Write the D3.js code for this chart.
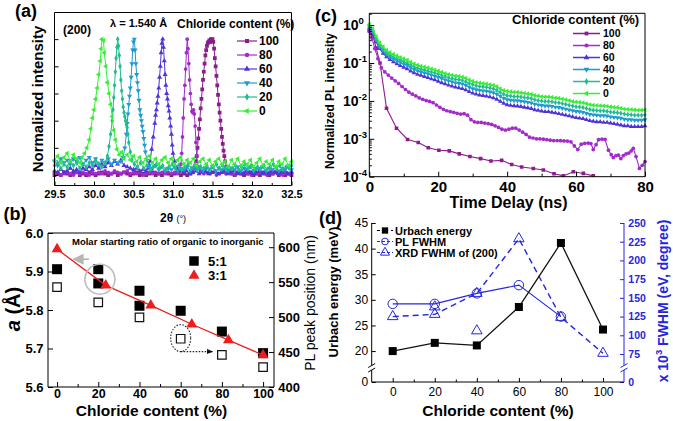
<!DOCTYPE html>
<html><head><meta charset="utf-8">
<script src="https://cdnjs.cloudflare.com/ajax/libs/d3/7.8.5/d3.min.js"></script>
<style>
html,body{margin:0;padding:0;background:#fff;}
svg{display:block;}
text{font-family:"Liberation Sans",Arial,Helvetica,sans-serif;}
</style></head><body>
<svg id="fig" width="673" height="421"></svg>
<script>
// ================= DATA =================
const chlorideLevels=["100","80","60","40","20","0"];
const levelColors=["#8B1C8C","#A22BCB","#4F35D8","#1F9BD0","#20BD90","#36EE36"];
const levelShapes=["square","circle","triangle","triangleDown","diamond","triangleLeft"];

// (a) XRD (200) peaks: [2theta, normalized intensity %]
const xrdTicks=[29.5,30.0,30.5,31.0,31.5,32.0,32.5];
const xrdYTicks=[0,20,40,60,80,100];
const xrd0=[[29.50,11],[29.54,14],[29.58,9],[29.62,13],[29.66,16],[29.70,10],[29.74,15],[29.78,12],[29.82,9],[29.85,13],[29.88,16],[29.91,20],[29.94,26],[29.96,34],[29.98,42],[30.00,48],[30.02,56],[30.04,64],[30.06,74],[30.08,84],[30.09,93],[30.10,100],[30.12,99],[30.13,90],[30.15,80],[30.17,68],[30.19,60],[30.21,52],[30.23,43],[30.25,33],[30.27,26],[30.29,19],[30.32,15],[30.35,17],[30.38,12],[30.42,15],[30.46,11],[30.50,14],[30.54,10],[30.58,13],[30.62,9],[30.66,12],[30.70,14],[30.74,9],[30.78,12],[30.82,8],[30.86,11],[30.90,13],[30.94,9],[30.98,12],[31.02,8],[31.06,11],[31.10,13],[31.14,8],[31.18,11],[31.22,9],[31.26,12],[31.30,7],[31.34,10],[31.38,12],[31.42,8],[31.46,11],[31.50,7],[31.54,10],[31.58,12],[31.62,8],[31.66,10],[31.70,6],[31.74,11],[31.78,8],[31.82,12],[31.86,7],[31.90,10],[31.94,8],[31.98,11],[32.02,6],[32.06,9],[32.10,12],[32.14,7],[32.18,10],[32.22,8],[32.26,11],[32.30,6],[32.34,10],[32.38,8],[32.42,12],[32.46,7],[32.50,10]];
const xrd20=[[29.50,7],[29.54,9],[29.58,5],[29.62,8],[29.66,6],[29.70,10],[29.74,7],[29.78,9],[29.82,5],[29.86,8],[29.90,6],[29.94,9],[29.98,7],[30.02,10],[30.06,8],[30.10,6],[30.14,9],[30.17,14],[30.19,21],[30.21,30],[30.23,40],[30.24,48],[30.25,57],[30.26,66],[30.27,76],[30.28,86],[30.29,94],[30.30,100],[30.31,95],[30.32,88],[30.33,80],[30.34,70],[30.35,62],[30.36,56],[30.37,50],[30.38,46],[30.39,43],[30.40,40],[30.41,37],[30.42,35],[30.43,30],[30.44,24],[30.46,17],[30.48,11],[30.51,8],[30.55,6],[30.59,9],[30.63,5],[30.67,7],[30.71,4],[30.75,6],[30.79,8],[30.83,5],[30.87,7],[30.91,4],[30.95,6],[30.99,8],[31.03,5],[31.07,7],[31.11,4],[31.15,6],[31.19,8],[31.23,5],[31.27,7],[31.31,4],[31.35,6],[31.39,5],[31.43,7],[31.47,4],[31.51,6],[31.55,8],[31.59,5],[31.63,7],[31.67,4],[31.71,6],[31.75,5],[31.79,7],[31.83,4],[31.87,6],[31.91,8],[31.95,5],[31.99,7],[32.03,4],[32.07,6],[32.11,5],[32.15,7],[32.19,4],[32.23,6],[32.27,8],[32.31,5],[32.35,7],[32.39,4],[32.43,6],[32.47,5],[32.50,7]];
const xrd40=[[29.50,10],[29.54,7],[29.58,12],[29.62,9],[29.66,11],[29.70,8],[29.74,12],[29.78,10],[29.82,13],[29.86,8],[29.90,11],[29.94,13],[29.98,9],[30.02,12],[30.06,8],[30.10,11],[30.14,9],[30.18,12],[30.22,8],[30.26,11],[30.30,9],[30.34,10],[30.37,13],[30.39,20],[30.41,30],[30.42,38],[30.43,45],[30.44,52],[30.45,58],[30.46,64],[30.47,72],[30.48,82],[30.49,92],[30.50,98],[30.51,100],[30.52,92],[30.53,82],[30.54,74],[30.55,68],[30.56,62],[30.57,55],[30.58,48],[30.59,44],[30.60,40],[30.61,36],[30.62,32],[30.63,27],[30.64,22],[30.65,17],[30.67,11],[30.70,7],[30.74,5],[30.78,7],[30.82,4],[30.86,6],[30.90,3],[30.94,5],[30.98,4],[31.02,6],[31.06,3],[31.10,5],[31.14,4],[31.18,6],[31.22,3],[31.26,5],[31.30,4],[31.34,6],[31.38,3],[31.42,5],[31.46,4],[31.50,6],[31.54,3],[31.58,5],[31.62,4],[31.66,6],[31.70,3],[31.74,5],[31.78,4],[31.82,6],[31.86,3],[31.90,5],[31.94,4],[31.98,6],[32.02,3],[32.06,5],[32.10,4],[32.14,6],[32.18,3],[32.22,5],[32.26,4],[32.30,6],[32.34,3],[32.38,5],[32.42,4],[32.46,6],[32.50,4]];
const xrd60=[[29.50,3],[29.54,2],[29.58,4],[29.62,2],[29.66,3],[29.70,5],[29.74,3],[29.78,4],[29.82,2],[29.86,5],[29.90,4],[29.94,6],[29.98,4],[30.02,7],[30.06,5],[30.10,8],[30.14,6],[30.18,9],[30.22,7],[30.26,10],[30.30,8],[30.34,11],[30.38,7],[30.42,6],[30.46,5],[30.50,4],[30.54,5],[30.58,3],[30.62,4],[30.66,3],[30.69,5],[30.71,10],[30.73,19],[30.75,28],[30.77,38],[30.78,44],[30.79,48],[30.80,53],[30.81,58],[30.82,64],[30.83,72],[30.84,80],[30.85,90],[30.86,97],[30.87,100],[30.88,94],[30.89,84],[30.90,74],[30.91,66],[30.92,60],[30.93,56],[30.94,51],[30.95,47],[30.96,42],[30.97,36],[30.98,30],[30.99,22],[31.00,16],[31.02,10],[31.05,5],[31.09,3],[31.13,2],[31.17,3],[31.21,1],[31.25,2],[31.29,3],[31.33,1],[31.37,2],[31.41,3],[31.45,1],[31.49,2],[31.53,3],[31.57,1],[31.61,2],[31.65,3],[31.69,1],[31.73,2],[31.77,3],[31.81,1],[31.85,2],[31.89,1],[31.93,3],[31.97,2],[32.01,1],[32.05,2],[32.09,3],[32.13,1],[32.17,2],[32.21,1],[32.25,3],[32.29,2],[32.33,1],[32.37,2],[32.41,3],[32.45,1],[32.50,2]];
const xrd80=[[29.50,1],[29.54,2],[29.58,0],[29.62,1],[29.66,2],[29.70,1],[29.74,0],[29.78,2],[29.82,1],[29.86,2],[29.90,1],[29.94,0],[29.98,2],[30.02,1],[30.06,2],[30.10,1],[30.14,3],[30.18,2],[30.22,1],[30.26,3],[30.30,2],[30.34,1],[30.38,2],[30.42,3],[30.46,1],[30.50,2],[30.54,1],[30.58,2],[30.62,0],[30.66,1],[30.70,2],[30.74,1],[30.78,2],[30.82,1],[30.86,2],[30.90,1],[30.94,2],[30.98,1],[31.02,2],[31.06,1],[31.09,3],[31.10,8],[31.11,16],[31.12,28],[31.13,42],[31.14,56],[31.15,66],[31.16,78],[31.17,90],[31.18,100],[31.19,93],[31.20,82],[31.21,70],[31.22,60],[31.23,52],[31.24,47],[31.25,46],[31.26,48],[31.27,45],[31.28,36],[31.29,24],[31.30,14],[31.32,6],[31.35,3],[31.39,1],[31.43,2],[31.47,1],[31.51,2],[31.55,0],[31.59,1],[31.63,2],[31.67,1],[31.71,2],[31.75,1],[31.79,0],[31.83,2],[31.87,1],[31.91,2],[31.95,1],[31.99,0],[32.03,2],[32.07,1],[32.11,2],[32.15,1],[32.19,0],[32.23,2],[32.27,1],[32.31,2],[32.35,1],[32.39,0],[32.43,2],[32.47,1],[32.50,2]];
const xrd100=[[29.50,0],[29.54,1],[29.58,0],[29.62,2],[29.66,1],[29.70,0],[29.74,1],[29.78,2],[29.82,0],[29.86,1],[29.90,0],[29.94,2],[29.98,1],[30.02,0],[30.06,1],[30.10,2],[30.14,1],[30.18,0],[30.22,1],[30.26,2],[30.30,0],[30.34,1],[30.38,2],[30.42,1],[30.46,0],[30.50,1],[30.54,2],[30.58,0],[30.62,1],[30.66,0],[30.70,1],[30.74,2],[30.78,0],[30.82,1],[30.86,0],[30.90,2],[30.94,1],[30.98,0],[31.02,1],[31.06,2],[31.10,0],[31.14,1],[31.18,0],[31.22,1],[31.25,2],[31.27,5],[31.29,10],[31.30,14],[31.31,20],[31.32,27],[31.33,34],[31.34,41],[31.35,49],[31.36,56],[31.37,63],[31.38,70],[31.39,76],[31.40,82],[31.41,88],[31.42,92],[31.43,95],[31.44,97],[31.45,98],[31.46,99],[31.47,98],[31.48,100],[31.49,99],[31.50,100],[31.51,98],[31.52,93],[31.53,86],[31.54,80],[31.55,73],[31.56,66],[31.57,59],[31.58,52],[31.59,46],[31.60,40],[31.61,34],[31.62,28],[31.63,23],[31.64,18],[31.65,14],[31.66,10],[31.68,6],[31.70,3],[31.74,1],[31.78,0],[31.82,2],[31.86,1],[31.90,0],[31.94,1],[31.98,2],[32.02,0],[32.06,1],[32.10,0],[32.14,2],[32.18,1],[32.22,0],[32.26,1],[32.30,2],[32.34,0],[32.38,1],[32.42,0],[32.46,1],[32.50,0]];

// (b) lattice constant / PL peak position
const bXTicks=[0,20,40,60,80,100];
const bLeftTicks=[5.6,5.7,5.8,5.9,6.0];
const bRightTicks=[400,450,500,550,600];
const latticeChloride51=[0,20,20,40,40,60,80,100];
const lattice51=[5.906,5.906,5.869,5.850,5.811,5.798,5.744,5.688];
const plPeakChloride=[0,20,40,60,80,100];
const plPeak=[543,521,499.5,469,446,428.5];
const chloride31=[0,23.6,45.5,65.4,83.2,100];
const lattice31=[5.958,5.864,5.812,5.763,5.722,5.683];

// (c) TRPL decays
const cXTicks=[0,20,40,60,80];
const cYTicks=[1e-4,1e-3,1e-2,1e-1,1];
const plTimes=[0,1,2,3,4,5,6,7,8,9,10,11,12,13,14,15,16,17,18,19,20,21,22,23,24,25,26,27,28,29,30,31,32,33,34,35,36,37,38,39,40,41,42,43,44,45,46,47,48,49,50,51,52,53,54,55,56,57,58,59,60,61,62,63,64,65,66,67,68,69,70,71,72,73,74,75,76,77,78,79,80];
const pl0=[1.05,0.80,0.50,0.34,0.27,0.22,0.19,0.17,0.155,0.14,0.13,0.12,0.105,0.095,0.088,0.083,0.079,0.075,0.07,0.066,0.062,0.057,0.053,0.05,0.048,0.046,0.045,0.043,0.04,0.036,0.033,0.031,0.03,0.029,0.028,0.027,0.026,0.024,0.021,0.019,0.018,0.0175,0.017,0.017,0.0165,0.016,0.0155,0.015,0.014,0.0135,0.013,0.0128,0.0128,0.0125,0.012,0.0118,0.0113,0.0108,0.0102,0.0097,0.0094,0.0092,0.009,0.0085,0.008,0.0077,0.0076,0.0075,0.0074,0.0072,0.007,0.0068,0.0067,0.0064,0.0061,0.006,0.0059,0.0058,0.0057,0.0057,0.0058];
const pl20=[0.95,0.72,0.44,0.30,0.235,0.19,0.165,0.145,0.13,0.12,0.11,0.10,0.088,0.08,0.074,0.069,0.066,0.062,0.058,0.055,0.051,0.047,0.044,0.041,0.039,0.037,0.036,0.035,0.032,0.029,0.027,0.025,0.024,0.0235,0.023,0.022,0.021,0.019,0.017,0.015,0.0138,0.0135,0.013,0.013,0.0127,0.0123,0.012,0.0115,0.0107,0.0103,0.0099,0.0097,0.0097,0.0095,0.0091,0.0089,0.0085,0.0081,0.0077,0.0073,0.007,0.0069,0.0067,0.0063,0.0059,0.0057,0.0056,0.0055,0.0055,0.0053,0.0051,0.005,0.0049,0.0047,0.0045,0.0044,0.0043,0.0042,0.0042,0.0042,0.0043];
const pl40=[0.90,0.66,0.40,0.27,0.21,0.17,0.145,0.127,0.114,0.103,0.094,0.086,0.075,0.068,0.062,0.058,0.055,0.052,0.048,0.045,0.042,0.039,0.036,0.034,0.032,0.030,0.029,0.028,0.026,0.023,0.021,0.0198,0.019,0.0185,0.018,0.0173,0.0165,0.015,0.0133,0.0117,0.0108,0.0105,0.0102,0.0101,0.0098,0.0095,0.0092,0.0088,0.0082,0.0079,0.0076,0.0074,0.0074,0.0072,0.0069,0.0067,0.0064,0.0061,0.0058,0.0055,0.0053,0.0052,0.005,0.0047,0.0044,0.0043,0.0042,0.0041,0.0041,0.004,0.0038,0.0037,0.0036,0.0035,0.0033,0.0032,0.0032,0.0031,0.0031,0.0031,0.0032];
const pl60=[0.85,0.60,0.36,0.24,0.18,0.145,0.123,0.107,0.095,0.085,0.077,0.07,0.061,0.055,0.05,0.047,0.044,0.041,0.038,0.036,0.033,0.03,0.028,0.026,0.0245,0.023,0.022,0.021,0.0195,0.0175,0.016,0.015,0.0143,0.0138,0.0133,0.0127,0.012,0.011,0.0097,0.0086,0.0079,0.0076,0.0074,0.0073,0.0071,0.0068,0.0066,0.0063,0.0058,0.0056,0.0054,0.0052,0.0052,0.005,0.0048,0.0046,0.0044,0.0042,0.004,0.0038,0.0036,0.0035,0.0034,0.0032,0.003,0.0029,0.0028,0.0028,0.0027,0.0027,0.0026,0.0025,0.0024,0.0023,0.0022,0.0022,0.0021,0.0021,0.0021,0.0021,0.0022];
const pl80=[[0,0.7],[0.8,0.45],[1.6,0.24],[2.5,0.13],[3.5,0.075],[4.5,0.058],[5.5,0.048],[6.5,0.04],[7.5,0.034],[8.5,0.029],[9.5,0.024],[10.5,0.02],[11.5,0.017],[12.5,0.015],[13.5,0.0135],[14.5,0.012],[15.5,0.011],[16.5,0.0102],[17.5,0.0097],[18.5,0.009],[19.5,0.0078],[20.5,0.0068],[21.5,0.006],[22.5,0.0055],[23.5,0.0052],[24.5,0.005],[25.5,0.0047],[26.5,0.0045],[27.5,0.0046],[28.5,0.0042],[29.5,0.0032],[30.5,0.0028],[31.5,0.0027],[32.5,0.0027],[33.5,0.0026],[34.5,0.0025],[35.5,0.0024],[36.5,0.0022],[37.5,0.002],[38.5,0.0018],[39.5,0.0017],[40.5,0.0018],[41.5,0.0019],[42.5,0.0019],[43.5,0.0017],[44.5,0.0015],[45.5,0.0013],[46.5,0.0011],[47.5,0.00105],[48.5,0.001],[49.5,0.001],[50.5,0.00098],[51.5,0.00095],[52.5,0.00092],[53.5,0.0009],[54.5,0.0009],[55.5,0.00089],[56.5,0.00088],[57.5,0.00087],[58.5,0.00083],[59.5,0.00065],[60.5,0.00052],[61.5,0.00072],[62.5,0.00076],[63.5,0.00077],[64.3,0.00075],[65,0.00052],[65.8,0.0007],[66.5,0.00095],[67.5,0.00098],[68.4,0.00096],[69.4,0.0005],[70.2,0.00038],[70.8,0.00032],[71.6,0.00036],[72.3,0.00037],[73,0.0003],[73.7,0.00036],[74.5,0.0004],[75.3,0.00042],[76,0.00048],[76.6,0.00056],[77.4,0.00034],[78.4,0.000165],[79.2,0.0002],[80,0.00025]];
const pl100=[[0,0.7],[1,0.55],[2,0.25],[3.1,0.1],[5,0.0064],[7.9,0.0019],[11.1,0.00096],[14.2,0.0008],[17.1,0.00058],[20.2,0.0005],[23.2,0.00048],[26.1,0.0004],[29.2,0.00034],[32.3,0.0003],[35.3,0.00026],[38.4,0.00027],[41.3,0.00021],[44.2,0.00018],[47.6,0.000165],[50.5,0.00015],[53.6,0.00012],[56.3,0.000105],[59.2,0.000135],[62.1,0.000122],[65,0.000105]];

// (d) Urbach energy and FWHM
const dXTicks=[0,20,40,60,80,100];
const dLeftTicks=[0,20,25,30,35,40,45];
const dRightTicks=[0,75,100,125,150,175,200,225,250];
const dChloride=[0,20,40,60,80,100];
const urbachEnergy=[20.0,21.6,21.1,28.6,41.1,24.2];
const plFwhmChloride=[0,20,40,60,80];
const plFwhm=[142,142,156,167,125];
const xrdFwhm=[125,128,156,229,124,76];
const xrdFwhmExtraChloride=[20,40];
const xrdFwhmExtra=[138,106];

// ================= DRAW =================
const svg=d3.select("#fig");
const defs=svg.append("defs");
const symMap={square:d3.symbolSquare,circle:d3.symbolCircle,triangle:d3.symbolTriangle,triangleDown:d3.symbolTriangle,triangleLeft:d3.symbolTriangle,diamond:d3.symbolDiamond};
const symRot={triangleDown:180,triangleLeft:-90};
function markers(g,data,xs,ys,type,size,fill,stroke,sw){
  g.selectAll(null).data(data).join("path")
    .attr("d",d3.symbol(symMap[type],size)())
    .attr("transform",d=>`translate(${xs(d[0])},${ys(d[1])}) rotate(${symRot[type]||0})`)
    .attr("fill",fill).attr("stroke",stroke||"none").attr("stroke-width",sw||0);
}
function clipRect(id,B){defs.append("clipPath").attr("id",id).append("rect").attr("x",B.l-3).attr("y",B.t).attr("width",B.r-B.l+6).attr("height",B.b-B.t);}
function styleAxis(g,size,weight,color){
  g.select(".domain").remove();
  g.selectAll(".tick line").attr("stroke",color||"#000").attr("stroke-width",1);
  g.selectAll(".tick text").attr("font-size",size).attr("font-weight",weight).attr("fill",color||"#000");
}
function frame(g,B,sides,color){
  const c=color||"#000";
  if(sides.includes("t"))g.append("line").attr("x1",B.l).attr("x2",B.r).attr("y1",B.t).attr("y2",B.t).attr("stroke",c);
  if(sides.includes("b"))g.append("line").attr("x1",B.l).attr("x2",B.r).attr("y1",B.b).attr("y2",B.b).attr("stroke",c);
  if(sides.includes("l"))g.append("line").attr("x1",B.l).attr("x2",B.l).attr("y1",B.t).attr("y2",B.b).attr("stroke",c);
  if(sides.includes("r"))g.append("line").attr("x1",B.r).attr("x2",B.r).attr("y1",B.t).attr("y2",B.b).attr("stroke",c);
}
function label(txt,x,y,size,weight,opts={}){
  const t=svg.append("text").attr("x",x).attr("y",y).attr("font-size",size).attr("font-weight",weight)
    .attr("text-anchor",opts.anchor||"start").attr("fill",opts.fill||"#000").text(txt);
  if(opts.rot)t.attr("transform",`rotate(${opts.rot},${x},${y})`);
  return t;
}
defs.append("marker").attr("id","arrGrey").attr("viewBox","0 0 10 10").attr("refX",9).attr("refY",5)
  .attr("markerWidth",7).attr("markerHeight",7).attr("orient","auto")
  .append("path").attr("d","M0,0 L10,5 L0,10 z").attr("fill","#b5b5b5");
defs.append("marker").attr("id","arrBlack").attr("viewBox","0 0 10 10").attr("refX",9).attr("refY",5)
  .attr("markerWidth",6).attr("markerHeight",6).attr("orient","auto")
  .append("path").attr("d","M0,1 L10,5 L0,9 z").attr("fill","#111");

// ---------- Panel (a) ----------
const A={l:54.5,r:291.5,t:12.5,b:185.5};
const xA=d3.scaleLinear().domain([29.5,32.5]).range([A.l,A.r]);
const yA=d3.scaleLinear().domain([-7.7,119.6]).range([A.b,A.t]);
clipRect("clipA",A);
const gA=svg.append("g");
const plotA=gA.append("g").attr("clip-path","url(#clipA)");
const xrdSeries=[xrd100,xrd80,xrd60,xrd40,xrd20,xrd0];
const lineA=d3.line().x(d=>xA(d[0])).y(d=>yA(d[1]));
xrdSeries.forEach((s,i)=>{
  plotA.append("path").attr("d",lineA(s)).attr("fill","none").attr("stroke",levelColors[i]).attr("stroke-width",1);
  markers(plotA,s,xA,yA,levelShapes[i],i===0?14:11,levelColors[i]);
});
const axA=gA.append("g").attr("transform",`translate(0,${A.b})`)
  .call(d3.axisBottom(xA).tickValues(xrdTicks).tickFormat(d3.format(".1f")).tickSize(-4).tickPadding(4.5));
styleAxis(axA,11,"bold");
const axAm=gA.append("g").attr("transform",`translate(0,${A.b})`)
  .call(d3.axisBottom(xA).tickValues([29.75,30.25,30.75,31.25,31.75,32.25]).tickFormat("").tickSize(-2.5));
styleAxis(axAm,11,"bold");
const ayA=gA.append("g").attr("transform",`translate(${A.l},0)`)
  .call(d3.axisLeft(yA).tickValues(xrdYTicks).tickFormat("").tickSize(-4));
styleAxis(ayA,11,"bold");
frame(gA,A,"tblr");
// legend (a)
label("Chloride content (%)",177,28,12,"bold");
chlorideLevels.forEach((lv,i)=>{
  const y=41+14*i;
  gA.append("line").attr("x1",237).attr("x2",257).attr("y1",y).attr("y2",y).attr("stroke",levelColors[i]).attr("stroke-width",1.2);
  markers(gA,[[247,y]],d=>d,d=>d,levelShapes[i],16,levelColors[i]);
  label(lv,259,y+4.2,12,"bold");
});
label("\u03bb = 1.540 \u00c5",110,27,11,"bold");
label("(200)",63,34,12,"bold");
label("(a)",15,17,18,"bold");
label("Normalized intensity",42.5,99,15,"bold",{anchor:"middle",rot:-90});
const tt=label("2\u03b8 ",160,222,12,"bold");
tt.append("tspan").attr("font-size",9).attr("font-weight","normal").text("(\u00b0)");

// ---------- Panel (b) ----------
const B={l:48,r:274,t:233,b:387};
const xB=d3.scaleLinear().domain([-4.4,105.3]).range([B.l,B.r]);
const yBL=d3.scaleLinear().domain([5.6,6.0]).range([B.b,B.t]);
const yBR=d3.scaleLinear().domain([400,620.3]).range([B.b,B.t]);
const gB=svg.append("g");
markers(gB,plPeakChloride.map((c,i)=>[c,plPeak[i]]),xB,yBR,"square",72,"#fff","#111",1.2);
markers(gB,latticeChloride51.map((c,i)=>[c,lattice51[i]]),xB,yBL,"square",100,"#000");
const pts31=chloride31.map((c,i)=>[c,lattice31[i]]);
gB.append("path").attr("d",d3.line().x(d=>xB(d[0])).y(d=>yBL(d[1]))(pts31)).attr("fill","none").attr("stroke","#e8201c").attr("stroke-width",1.3);
markers(gB,pts31,xB,yBL,"triangle",52,"#ee1c1c");
gB.append("circle").attr("cx",xB(20.8)).attr("cy",yBL(5.880)).attr("r",15).attr("fill","none").attr("stroke","#bdbdbd").attr("stroke-width",1.6);
gB.append("line").attr("x1",xB(15.5)).attr("y1",yBL(5.932)).attr("x2",xB(8)).attr("y2",yBL(5.932)).attr("stroke","#b5b5b5").attr("stroke-width",1.6).attr("marker-end","url(#arrGrey)");
gB.append("ellipse").attr("cx",xB(60)).attr("cy",yBL(5.727)).attr("rx",10).attr("ry",13.5).attr("fill","none").attr("stroke","#222").attr("stroke-width",1.1).attr("stroke-dasharray","1.5,1.5");
gB.append("line").attr("x1",xB(60)).attr("y1",yBL(5.692)).attr("x2",xB(75.5)).attr("y2",yBL(5.692)).attr("stroke","#222").attr("stroke-width",1.1).attr("stroke-dasharray","1.5,1.5").attr("marker-end","url(#arrBlack)");
const axB=gB.append("g").attr("transform",`translate(0,${B.b})`).call(d3.axisBottom(xB).tickValues(bXTicks).tickSize(-5).tickPadding(2.5));
styleAxis(axB,12.5,"bold");
const axBm=gB.append("g").attr("transform",`translate(0,${B.b})`).call(d3.axisBottom(xB).tickValues([10,30,50,70,90]).tickFormat("").tickSize(-3));
styleAxis(axBm,12.5,"bold");
const ayBL=gB.append("g").attr("transform",`translate(${B.l},0)`).call(d3.axisLeft(yBL).tickValues(bLeftTicks).tickFormat(d3.format(".1f")).tickSize(-5).tickPadding(4.5));
styleAxis(ayBL,13,"bold");
const ayBR=gB.append("g").attr("transform",`translate(${B.r},0)`).call(d3.axisRight(yBR).tickValues(bRightTicks).tickSize(-5).tickPadding(4.3));
styleAxis(ayBR,13,"bold");
frame(gB,B,"tblr");
label("Molar starting ratio of organic to inorganic",72,245.4,9.5,"bold");
markers(gB,[[194,261]],d=>d,d=>d,"square",90,"#000");
label("5:1",208,265.5,13,"bold");
markers(gB,[[194,275.5]],d=>d,d=>d,"triangle",52,"#ee1c1c");
label("3:1",208,280,13,"bold");
label("(b)",3.5,219.5,18,"bold");
const aT=svg.append("text").attr("x",19.5).attr("y",309).attr("font-size",20).attr("font-weight","bold").attr("text-anchor","middle").attr("transform","rotate(-90,19.5,309)");
aT.append("tspan").attr("font-style","italic").text("a");
aT.append("tspan").text(" (\u00c5)");
label("PL peak position (nm)",315,303,14,"normal",{anchor:"middle",rot:-90});
label("Chloride content (%)",151.5,415.5,15.5,"bold",{anchor:"middle"});

// ---------- Panel (c) ----------
const C={l:369.3,r:645,t:13.3,b:176.7};
const xC=d3.scaleLinear().domain([0,80]).range([C.l,C.r]);
const yC=d3.scaleLog().domain([1e-4,2.05]).range([C.b,C.t]);
clipRect("clipC",C);
const gC=svg.append("g");
const plotC=gC.append("g").attr("clip-path","url(#clipC)");
const lineC=d3.line().x(d=>xC(d[0])).y(d=>yC(d[1]));
const plSeries=[pl100,pl80,
  plTimes.map((t,i)=>[t,pl60[i]]),plTimes.map((t,i)=>[t,pl40[i]]),
  plTimes.map((t,i)=>[t,pl20[i]]),plTimes.map((t,i)=>[t,pl0[i]])];
const plSizes=[13,11,10,10,9,10];
plSeries.forEach((s,i)=>{
  plotC.append("path").attr("d",lineC(s)).attr("fill","none").attr("stroke",levelColors[i]).attr("stroke-width",1.1);
  markers(plotC,s,xC,yC,levelShapes[i],plSizes[i],levelColors[i]);
});
const axC=gC.append("g").attr("transform",`translate(0,${C.b})`).call(d3.axisBottom(xC).tickValues(cXTicks).tickSize(-5).tickPadding(5));
styleAxis(axC,15,"bold");
const axCm=gC.append("g").attr("transform",`translate(0,${C.b})`).call(d3.axisBottom(xC).tickValues([10,30,50,70]).tickFormat("").tickSize(-3));
styleAxis(axCm,15,"bold");
const ayC=gC.append("g").attr("transform",`translate(${C.l},0)`).call(d3.axisLeft(yC).tickValues(cYTicks).tickFormat("").tickSize(-5));
styleAxis(ayC,12,"bold");
const minorC=[];
for(let e=-4;e<=0;e++){for(let k=2;k<=9;k++){const v=k*Math.pow(10,e);if(v<2.05)minorC.push(v);}}
const ayCm=gC.append("g").attr("transform",`translate(${C.l},0)`).call(d3.axisLeft(yC).tickValues(minorC).tickFormat("").tickSize(-2.5));
styleAxis(ayCm,12,"bold");
cYTicks.forEach(v=>{
  const e=Math.round(Math.log10(v));
  const t=svg.append("text").attr("x",343).attr("y",yC(v)+5).attr("font-size",14).attr("font-weight","bold").text("10");
  t.append("tspan").attr("font-size",9.5).attr("dy",-6).text(e);
});
frame(gC,C,"tblr");
label("Chloride content (%)",512,24.3,13,"bold");
chlorideLevels.forEach((lv,i)=>{
  const y=33.5+12*i;
  gC.append("line").attr("x1",573).attr("x2",600).attr("y1",y).attr("y2",y).attr("stroke",levelColors[i]).attr("stroke-width",1.5);
  markers(gC,[[586.5,y]],d=>d,d=>d,levelShapes[i],14,levelColors[i]);
  label(lv,603,y+3.8,10.5,"bold");
});
label("(c)",315,21.5,18,"bold");
label("Normalized PL intensity",333.6,101,12,"bold",{anchor:"middle",rot:-90});
label("Time Delay (ns)",508.5,207.7,16,"bold",{anchor:"middle"});

// ---------- Panel (d) ----------
const D={l:371.7,r:624,t:223,b:382};
const blue="#2626DC";
const xD=d3.scaleLinear().domain([-10,110]).range([D.l,D.r]);
const yDL=d3.scaleLinear().domain([0,16.5,45]).range([D.b,369,D.t]);
const yDR=d3.scaleLinear().domain([0,55,250]).range([D.b,369,D.t]);
const gD=svg.append("g");
const xrdPts=dChloride.map((c,i)=>[c,xrdFwhm[i]]);
gD.append("path").attr("d",d3.line().x(d=>xD(d[0])).y(d=>yDR(d[1]))(xrdPts)).attr("fill","none").attr("stroke",blue).attr("stroke-width",1.4).attr("stroke-dasharray","6,4");
markers(gD,xrdPts,xD,yDR,"triangle",48,"none",blue,1);
markers(gD,xrdFwhmExtraChloride.map((c,i)=>[c,xrdFwhmExtra[i]]),xD,yDR,"triangle",48,"none",blue,1);
const plfPts=plFwhmChloride.map((c,i)=>[c,plFwhm[i]]);
gD.append("path").attr("d",d3.line().x(d=>xD(d[0])).y(d=>yDR(d[1]))(plfPts)).attr("fill","none").attr("stroke",blue).attr("stroke-width",1.1);
markers(gD,plfPts,xD,yDR,"circle",70,"none",blue,1);
const urbPts=dChloride.map((c,i)=>[c,urbachEnergy[i]]);
gD.append("path").attr("d",d3.line().x(d=>xD(d[0])).y(d=>yDL(d[1]))(urbPts)).attr("fill","none").attr("stroke","#111").attr("stroke-width",1.3);
markers(gD,urbPts,xD,yDL,"square",64,"#000");
const axD=gD.append("g").attr("transform",`translate(0,${D.b})`).call(d3.axisBottom(xD).tickValues(dXTicks).tickSize(-4).tickPadding(5));
styleAxis(axD,12,"normal");
const axDm=gD.append("g").attr("transform",`translate(0,${D.b})`).call(d3.axisBottom(xD).tickValues([10,30,50,70,90]).tickFormat("").tickSize(-2.5));
styleAxis(axDm,12,"normal");
const ayDL=gD.append("g").attr("transform",`translate(${D.l},0)`).call(d3.axisLeft(yDL).tickValues(dLeftTicks).tickSize(-4).tickPadding(3.5));
styleAxis(ayDL,12,"normal");
const ayDR=gD.append("g").attr("transform",`translate(${D.r},0)`).call(d3.axisRight(yDR).tickValues(dRightTicks).tickSize(-4).tickPadding(4.3));
styleAxis(ayDR,10.5,"bold",blue);
frame(gD,D,"b");
[[D.l,"#000"],[D.r,blue]].forEach(([x,c])=>{
  gD.append("line").attr("x1",x).attr("x2",x).attr("y1",D.t).attr("y2",365.5).attr("stroke",c);
  gD.append("line").attr("x1",x).attr("x2",x).attr("y1",370).attr("y2",D.b).attr("stroke",c);
  gD.append("line").attr("x1",x-3.5).attr("x2",x+3.5).attr("y1",367.5).attr("y2",363.5).attr("stroke",c);
  gD.append("line").attr("x1",x-3.5).attr("x2",x+3.5).attr("y1",372).attr("y2",368).attr("stroke",c);
});
const legD=[{t:"Urbach energy",c:"#000",s:"square",f:"#000",dash:null},
            {t:"PL FWHM",c:blue,s:"circle",f:"none",dash:"3,2"},
            {t:"XRD FWHM of (200)",c:blue,s:"triangle",f:"none",dash:"3,2"}];
legD.forEach((L,i)=>{
  const y=230.5+11*i;
  gD.append("line").attr("x1",377).attr("x2",393).attr("y1",y).attr("y2",y).attr("stroke",L.c).attr("stroke-width",1.1).attr("stroke-dasharray",L.dash||"3,4");
  markers(gD,[[385,y]],d=>d,d=>d,L.s,L.s==="square"?40:36,L.f,L.f==="none"?L.c:null,1);
  label(L.t,395,y+4,11,"bold");
});
label("(d)",319,223.5,18,"bold");
label("Urbach energy (meV)",337.5,292,13,"bold",{anchor:"middle",rot:-90});
const rt=svg.append("text").attr("x",668).attr("y",301).attr("font-size",14).attr("font-weight","bold").attr("fill",blue).attr("text-anchor","middle").attr("transform","rotate(-90,668,301)");
rt.append("tspan").text("x 10");
rt.append("tspan").attr("font-size",9.5).attr("dy",-6).text("3");
rt.append("tspan").attr("dy",6).text(" FWHM (eV, degree)");
label("Chloride content (%)",498,415.5,15.5,"bold",{anchor:"middle"});
</script></body></html>
